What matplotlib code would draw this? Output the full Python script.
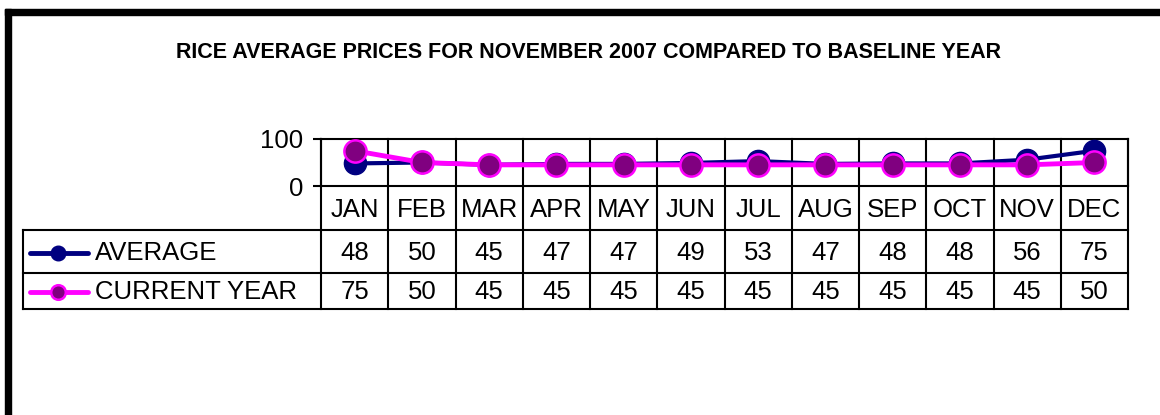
import numpy as np
import matplotlib
matplotlib.use('Agg')
import matplotlib.pyplot as plt
from matplotlib.lines import Line2D
from matplotlib.patches import Rectangle
from matplotlib.transforms import blended_transform_factory

plt.rcParams['font.family'] = ['Liberation Sans', 'DejaVu Sans']

# data
months = ['JAN', 'FEB', 'MAR', 'APR', 'MAY', 'JUN', 'JUL', 'AUG', 'SEP', 'OCT', 'NOV', 'DEC']
average = [48, 50, 45, 47, 47, 49, 53, 47, 48, 48, 56, 75]
current_year = [75, 50, 45, 45, 45, 45, 45, 45, 45, 45, 45, 50]
series_names = ['AVERAGE', 'CURRENT YEAR']
title = 'RICE AVERAGE PRICES FOR NOVEMBER 2007 COMPARED TO BASELINE YEAR'

W, H = 1160, 415


def fx(px):
    return px / W


def fy(py):
    return 1 - py / H


fig = plt.figure(figsize=(W / 100, H / 100), dpi=100)
fig.patch.set_facecolor('white')

# plot area
ax = fig.add_axes([fx(321), fy(186), fx(1128) - fx(321), fy(139) - fy(186)])
ax.set_xlim(0, len(months))
ax.set_ylim(0, 100)
ax.set_xticks([])
ax.set_yticks([0, 100])
ax.tick_params(axis='y', length=6, width=1.5, pad=7, labelsize=18.5)
for s in ax.spines.values():
    s.set_linewidth(1.5)
    s.set_color('black')

x = np.arange(len(months)) + 0.5
styles = [
    dict(color='#000080', mfc='#000080', mec='#000080', ms=16, mew=1, lw=3),
    dict(color='#FF00FF', mfc='#800080', mec='#FF00FF', ms=16, mew=1.8, lw=3.5),
]
for vals, st in zip([average, current_year], styles):
    ax.plot(x, vals, marker='o', clip_on=False, zorder=5, **st)

# table grid below the plot
tr = blended_transform_factory(ax.transData, fig.transFigure)
row_lines = [186, 230, 273, 309]
for i in range(len(months) + 1):
    ax.plot([i, i], [fy(139), fy(309)], transform=tr, color='black', lw=1.5, clip_on=False, zorder=1)
for py in row_lines[1:]:
    fig.add_artist(Line2D([fx(23), fx(1128)], [fy(py), fy(py)], color='black', lw=1.5))
fig.add_artist(Line2D([fx(23), fx(23)], [fy(230), fy(309)], color='black', lw=1.5))

# month header
for i, m in enumerate(months):
    ax.text(i + 0.5, fy(210), m, transform=tr, ha='center', va='center', fontsize=18.5)

# value rows with legend keys
row_centers = [253, 292]
for r, (vals, name, st) in enumerate(zip([average, current_year], series_names, styles)):
    yc = fy(row_centers[r])
    fig.add_artist(Line2D([fx(30), fx(88)], [yc, yc], color=st['color'], lw=3.5,
                          solid_capstyle='round'))
    fig.add_artist(Line2D([fx(58)], [yc], marker='o', ms=10.5, mfc=st['mfc'], mec=st['mec'],
                          mew=st['mew'], lw=0))
    fig.text(fx(95), yc, name, ha='left', va='center', fontsize=18.5)
    for i, v in enumerate(vals):
        ax.text(i + 0.5, yc, str(v), transform=tr, ha='center', va='center', fontsize=18.5)

fig.text(fx(588), fy(53), title, ha='center', va='center', fontsize=15.5, fontweight='bold')

# thick frame on top and left
fig.add_artist(Rectangle((fx(5), fy(15)), 1 - fx(5), 6 / H, color='black'))
fig.add_artist(Rectangle((fx(5), 0), 6 / W, fy(9), color='black'))

plt.savefig('out.png', dpi=100)
plt.close()
